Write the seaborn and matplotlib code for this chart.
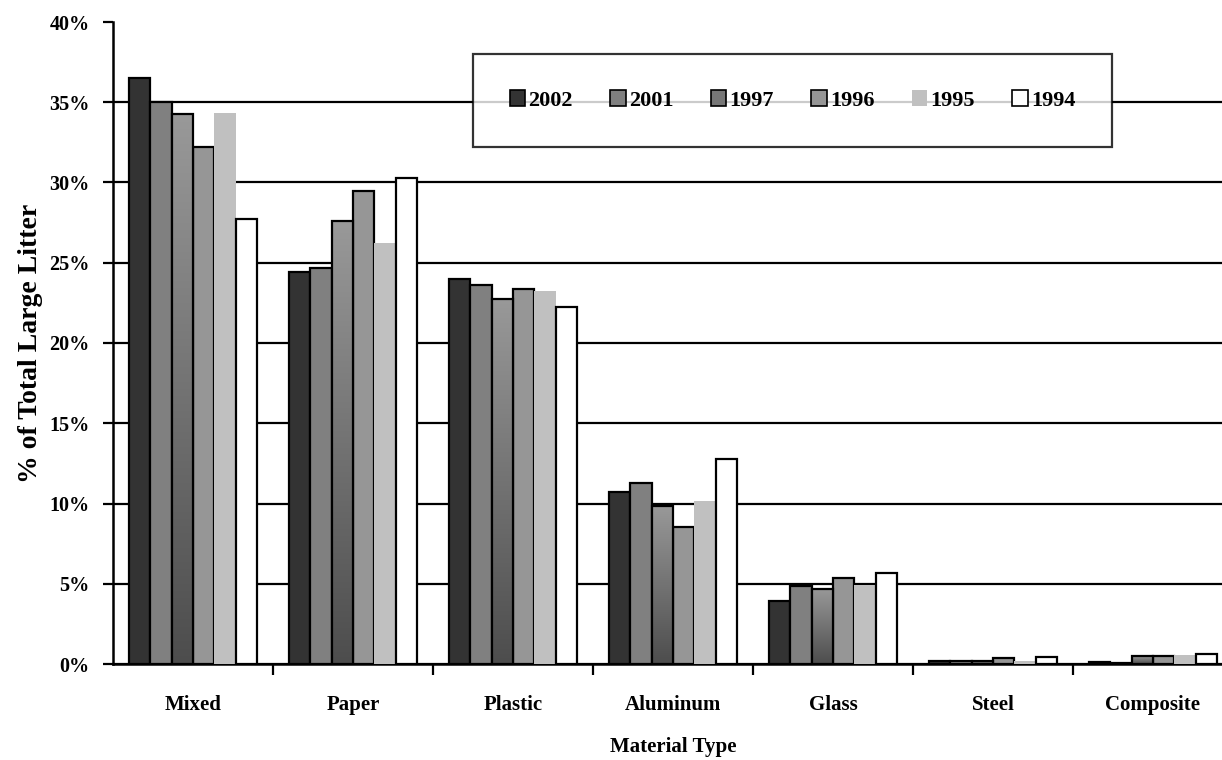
import numpy as np
import pandas as pd
import matplotlib
matplotlib.use("Agg")
import matplotlib.pyplot as plt
import seaborn as sns
from matplotlib.ticker import PercentFormatter, FixedLocator
from matplotlib.colors import LinearSegmentedColormap
from matplotlib.patches import Patch

# Share of total large litter by material type, per survey year (percent)
materials = ["Mixed", "Paper", "Plastic", "Aluminum", "Glass", "Steel", "Composite"]
years = ["2002", "2001", "1997", "1996", "1995", "1994"]
pct_2002 = [36.5, 24.4, 24.0, 10.7, 3.95, 0.20, 0.10]
pct_2001 = [35.0, 24.65, 23.6, 11.3, 4.85, 0.20, 0.05]
pct_1997 = [34.25, 27.6, 22.75, 9.85, 4.7, 0.20, 0.48]
pct_1996 = [32.2, 29.5, 23.35, 8.55, 5.35, 0.35, 0.48]
pct_1995 = [34.35, 26.2, 23.25, 10.15, 4.95, 0.20, 0.56]
pct_1994 = [27.75, 30.25, 22.25, 12.8, 5.7, 0.45, 0.60]

series = dict(zip(years, [pct_2002, pct_2001, pct_1997, pct_1996, pct_1995, pct_1994]))
df = pd.DataFrame(
    [(m, y, v / 100.0) for y, vals in series.items() for m, v in zip(materials, vals)],
    columns=["material", "year", "share"],
)

colors = {"2002": "#333333", "2001": "#808080", "1997": "#777777",
          "1996": "#969696", "1995": "#c0c0c0", "1994": "#ffffff"}

sns.set_theme(style="white")
plt.rcParams["font.family"] = ["Liberation Serif", "DejaVu Serif"]
plt.rcParams["font.weight"] = "bold"
plt.rcParams["text.color"] = "black"
plt.rcParams["axes.labelcolor"] = "black"

fig = plt.figure(figsize=(12.22, 7.60), dpi=100)
ax = fig.add_axes([113 / 1222, 96 / 760, 1120 / 1222, 642 / 760])

sns.barplot(data=df, x="material", y="share", hue="year", hue_order=years,
            order=materials, palette=colors, width=0.8, saturation=1,
            edgecolor="black", linewidth=1.6, ax=ax, legend=False, zorder=3)

# Light bars (1995) have no outline; 1997 bars get a vertical shade
grad = LinearSegmentedColormap.from_list("shade", ["#4d4d4d", "#999999"])
for year, cont in zip(years, ax.containers):
    for bar in cont:
        if year == "1995":
            bar.set_edgecolor("none")
        elif year == "1997":
            x0, y0 = bar.get_x(), bar.get_y()
            w, h = bar.get_width(), bar.get_height()
            img = ax.imshow(np.linspace(0, 1, 256).reshape(-1, 1), cmap=grad,
                            origin="lower", aspect="auto",
                            extent=[x0, x0 + w, y0, y0 + h], zorder=3)
            img.set_clip_path(bar)
            bar.set_facecolor("none")
            bar.set_zorder(4)

ax.set_xlim(-0.5, len(materials) - 0.5)
ax.set_ylim(0, 0.40)
ax.set_aspect("auto")
ax.yaxis.set_major_locator(FixedLocator(np.arange(0, 0.401, 0.05)))
ax.yaxis.set_major_formatter(PercentFormatter(1.0, decimals=0))

# Horizontal gridlines
ax.yaxis.grid(True, color="black", linewidth=1.6, zorder=0)
ax.set_axisbelow(True)
ax.yaxis.get_gridlines()[-1].set_visible(False)

for side in ["top", "right"]:
    ax.spines[side].set_visible(False)
for side in ["left", "bottom"]:
    ax.spines[side].set_color("black")
    ax.spines[side].set_linewidth(1.8)

ax.tick_params(axis="y", which="major", direction="out", length=7, width=1.6,
               color="black", left=True, labelsize=14.5, pad=10)
ax.tick_params(axis="x", which="major", length=0, labelsize=15, pad=22)
ax.xaxis.set_minor_locator(FixedLocator(np.arange(0.5, len(materials) - 1, 1.0)))
ax.tick_params(axis="x", which="minor", direction="out", length=8, width=1.6,
               color="black", bottom=True)
for lbl in ax.get_xticklabels() + ax.get_yticklabels():
    lbl.set_fontweight("bold")
    lbl.set_color("black")

ax.set_xlabel("Material Type", fontsize=15, fontweight="bold", labelpad=16,
              color="black")
ax.set_ylabel("% of Total Large Litter", fontsize=20, fontweight="bold",
              labelpad=4, color="black")

# Legend in a framed box across the upper area
handles = [Patch(facecolor=colors[y], edgecolor="none" if y == "1995" else "black",
                 linewidth=1.2, label=y) for y in years]
leg = fig.legend(handles=handles, loc="center", ncol=6,
                 bbox_to_anchor=(473 / 1222, 1 - 148 / 760, 639 / 1222, 95 / 760),
                 mode="expand", borderaxespad=0, borderpad=1.65,
                 handlelength=0.7, handleheight=0.7, handletextpad=0.15,
                 fancybox=False, frameon=True,
                 prop={"family": "Liberation Serif", "weight": "bold", "size": 16})
leg.get_frame().set_edgecolor("black")
leg.get_frame().set_linewidth(1.6)
for t in leg.get_texts():
    t.set_color("black")

fig.savefig("out.png", dpi=100)
